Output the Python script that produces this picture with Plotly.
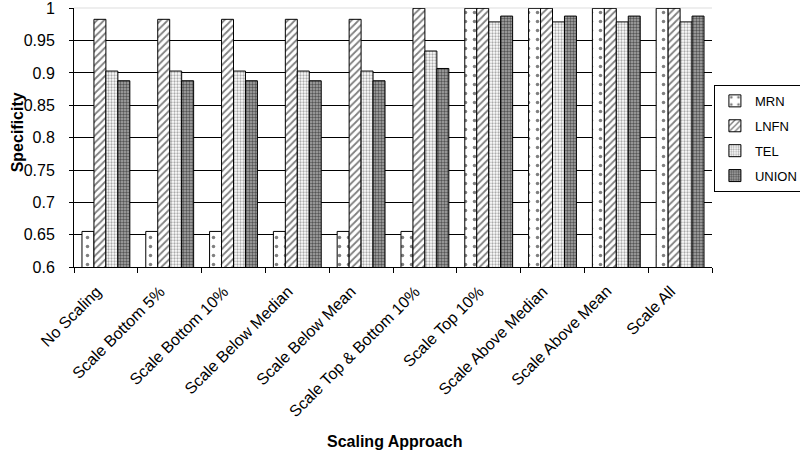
import plotly.graph_objects as go

categories = ["No Scaling", "Scale Bottom 5%", "Scale Bottom 10%", "Scale Below Median",
              "Scale Below Mean", "Scale Top & Bottom 10%", "Scale Top 10%",
              "Scale Above Median", "Scale Above Mean", "Scale All"]
mrn = [0.655, 0.655, 0.655, 0.655, 0.655, 0.655, 1.0, 1.0, 1.0, 1.0]
lnfn = [0.983, 0.983, 0.983, 0.983, 0.983, 1.0, 1.0, 1.0, 1.0, 1.0]
tel = [0.903, 0.903, 0.903, 0.903, 0.903, 0.934, 0.979, 0.979, 0.979, 0.979]
union = [0.888, 0.888, 0.888, 0.888, 0.888, 0.907, 0.988, 0.988, 0.988, 0.988]
y_ticks = [0.6, 0.65, 0.7, 0.75, 0.8, 0.85, 0.9, 0.95, 1.0]
y_tick_labels = ["0.6", "0.65", "0.7", "0.75", "0.8", "0.85", "0.9", "0.95", "1"]

font = "Liberation Sans, Arial, sans-serif"

styles = [
    ("MRN", mrn, dict(shape=".", fgcolor="black", bgcolor="white", size=9, solidity=0.12)),
    ("LNFN", lnfn, dict(shape="/", fgcolor="black", bgcolor="white", size=5, solidity=0.35)),
    ("TEL", tel, dict(shape=".", fgcolor="#555555", bgcolor="white", size=3, solidity=0.45)),
    ("UNION", union, dict(shape=".", fgcolor="black", bgcolor="#aaaaaa", size=3, solidity=0.5)),
]

fig = go.Figure()
for name, vals, pat in styles:
    fig.add_trace(go.Bar(
        x=categories, y=vals, name=name, legendgroup=name,
        marker=dict(color="white", pattern=pat, line=dict(color="black", width=1)),
    ))

fig.update_layout(
    width=800, height=455,
    margin=dict(l=74, r=88, t=8, b=188, autoexpand=False),
    paper_bgcolor="white", plot_bgcolor="white",
    barmode="group", bargap=0.25, bargroupgap=0,
    font=dict(family=font, size=16, color="black"),
    legend=dict(x=1.003, y=0.703, xanchor="left", yanchor="top",
                bordercolor="black", borderwidth=1, bgcolor="white",
                font=dict(size=13), itemwidth=30, tracegroupgap=5),
    xaxis=dict(
        type="category", range=[-0.5, len(categories) - 0.5], autorange=False,
        ticks="outside", tickson="boundaries", showticklabels=False,
        ticklen=5, tickcolor="black", showline=True, linecolor="black", linewidth=1,
        automargin=False,
    ),
    yaxis=dict(
        range=[0.6, 1.0005], autorange=False, tickmode="array", tickvals=y_ticks,
        ticktext=y_tick_labels, ticklabeloverflow="allow",
        ticks="outside", ticklen=4, automargin=False, ticklabelstandoff=11,
        tickcolor="black", showline=True, linecolor="black", linewidth=1,
        showgrid=True, gridcolor="black", gridwidth=1, zeroline=False,
        tickfont=dict(size=16),
    ),
)
fig.add_shape(type="line", xref="paper", yref="paper", x0=0, x1=1, y0=1, y1=1,
              line=dict(color="#dddddd", width=1), layer="below")

# rotated category labels (Excel-style anchoring)
for c in categories:
    fig.add_annotation(x=c, xref="x", y=0, yref="paper", text=c, showarrow=False,
                       textangle=-45, xanchor="right", yanchor="top",
                       xshift=1, yshift=-13, font=dict(size=16))

# axis titles
fig.add_annotation(x=0.5016, xref="paper", y=-0.672, yref="paper",
                   text="<b>Scaling Approach</b>", showarrow=False,
                   xanchor="center", yanchor="middle", font=dict(size=16))
fig.add_annotation(x=-0.0893, xref="paper", y=0.52, yref="paper",
                   text="<b>Specificity</b>", showarrow=False, textangle=-90,
                   xanchor="center", yanchor="middle", font=dict(size=16))

fig.write_html("out.html", config={"displayModeBar": False},
               post_script="document.body.style.margin='0';")
